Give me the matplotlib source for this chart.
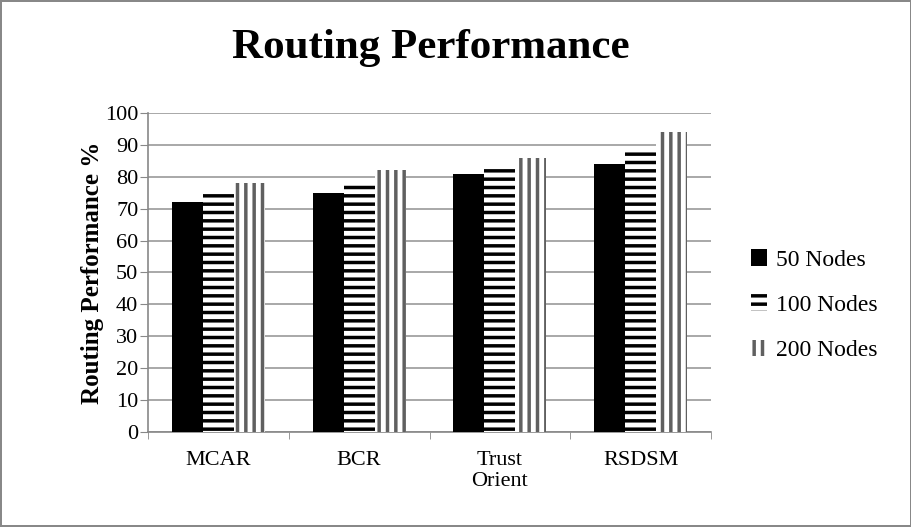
import numpy as np
import matplotlib
matplotlib.use('Agg')
import matplotlib.pyplot as plt
from matplotlib.patches import Patch

categories = ['MCAR', 'BCR', 'Trust\nOrient', 'RSDSM']
series_names = ['50 Nodes', '100 Nodes', '200 Nodes']
nodes_50 = [72, 75, 81, 84]
nodes_100 = [75, 78, 82.5, 88]
nodes_200 = [78, 82, 86, 94]

plt.rcParams['font.family'] = ['Liberation Serif', 'DejaVu Serif']
plt.rcParams['hatch.linewidth'] = 2.5

fig = plt.figure(figsize=(9.12, 5.27), dpi=100)
fig.patch.set_edgecolor('#888888')
fig.patch.set_linewidth(1.5)
ax = fig.add_axes([0.1623, 0.1803, 0.6173, 0.6053])

x = np.arange(len(categories))
w = 0.22
ax.bar(x - w, nodes_50, w, color='black', linewidth=0, zorder=3)
ax.bar(x, nodes_100, w, color='white', edgecolor='black', hatch='--', linewidth=0, zorder=3)
ax.bar(x + w, nodes_200, w, color='white', edgecolor='#606060', hatch='||', linewidth=0, zorder=3)

ax.set_xlim(-0.5, len(categories) - 0.5)
ax.set_ylim(0, 100)
ax.set_yticks(range(0, 101, 10))
ax.set_xticks(x)
ax.set_xticklabels(categories, fontsize=16, linespacing=1.1)
ax.set_xticks(np.arange(-0.5, len(categories), 1), minor=True)
ax.tick_params(axis='x', which='major', length=0, pad=14)
ax.tick_params(axis='x', which='minor', length=5, color='#888888', direction='out')
ax.tick_params(axis='y', labelsize=16, length=6, pad=1, color='#888888', direction='out')
ax.grid(axis='y', color='#999999', linewidth=1.2, zorder=0)
for side in ['top', 'right']:
    ax.spines[side].set_visible(False)
for side in ['left', 'bottom']:
    ax.spines[side].set_color('#888888')
    ax.spines[side].set_linewidth(1.2)

ax.set_ylabel('Routing Performance %', fontsize=18, fontweight='bold', labelpad=1)
fig.text(0.472, 0.909, 'Routing Performance', fontsize=31, fontweight='bold',
         ha='center', va='center')

handles = [Patch(facecolor='black', linewidth=0),
           Patch(facecolor='white', edgecolor='black', hatch='--', linewidth=0),
           Patch(facecolor='white', edgecolor='#606060', hatch='||', linewidth=0)]
fig.legend(handles, series_names, loc='center left', bbox_to_anchor=(0.8, 0.421),
           frameon=False, fontsize=17, handlelength=0.7, handleheight=0.7,
           handletextpad=0.35, labelspacing=1.0)

fig.savefig('out.png', dpi=100, edgecolor=fig.get_edgecolor())
